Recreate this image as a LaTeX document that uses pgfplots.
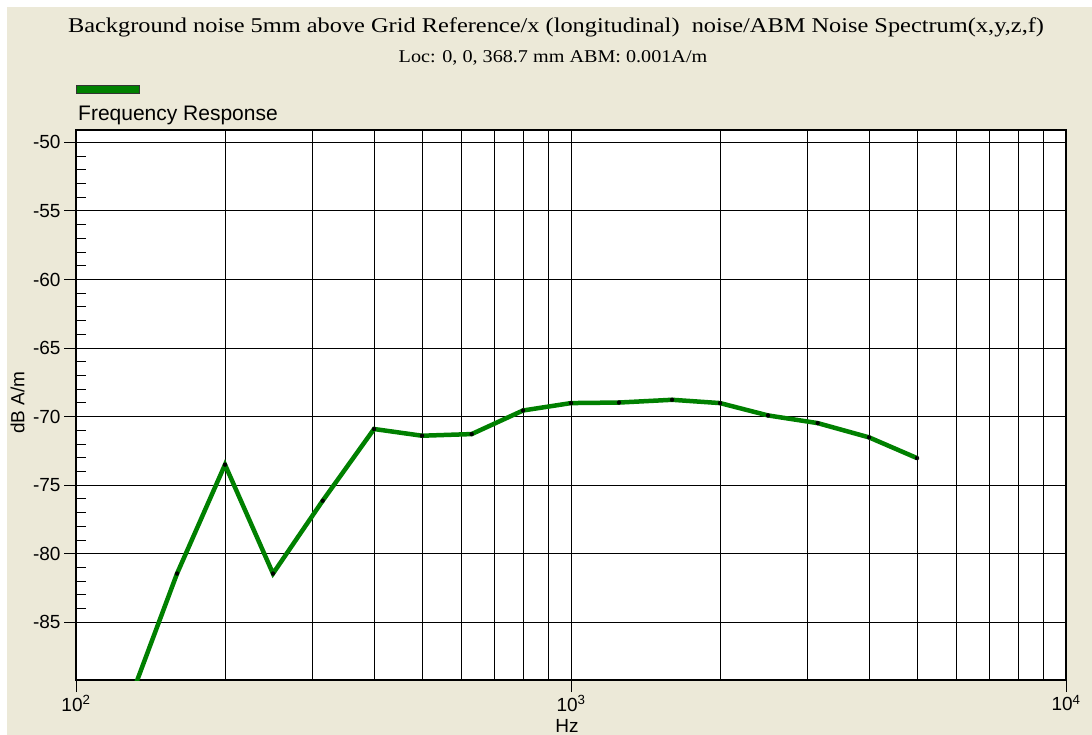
\documentclass[border=0pt]{standalone}
\usepackage{pgfplots}
\pgfplotsset{compat=1.18}
\usepackage{fontspec}
\setmainfont{Liberation Sans}
\newfontfamily\serifx{Liberation Serif}
\definecolor{bg}{RGB}{236,233,216}
\definecolor{lg}{RGB}{0,128,0}

\pgfplotstableread{
f y
125 -91.8
160 -81.44
200 -73.5
250 -81.44
315 -76.13
400 -70.9
500 -71.39
630 -71.27
800 -69.55
1000 -69.01
1250 -68.97
1600 -68.77
2000 -69.01
2500 -69.91
3150 -70.47
4000 -71.51
5000 -73.02
}\datatable

\begin{document}
\begin{tikzpicture}
\useasboundingbox (0pt,0pt) rectangle (1092pt,-735pt);
\fill[white] (0pt,0pt) rectangle (1092pt,-735pt);
\fill[bg] (7pt,-7pt) rectangle (1092pt,-735pt);
\node[font=\serifx\fontsize{21}{24}\selectfont, inner sep=0pt, xscale=1.16] at (556pt,-27pt) {Background noise 5mm above Grid Reference/x (longitudinal)\ \ noise/ABM Noise Spectrum(x,y,z,f)};
\node[font=\serifx\fontsize{18}{21}\selectfont, inner sep=0pt, xscale=1.12] at (553pt,-58pt) {Loc: 0, 0, 368.7 mm ABM: 0.001A/m};
\begin{axis}[
  at={(76pt,-680pt)}, anchor=south west,
  width=990pt, height=550pt, scale only axis,
  xmode=log, xmin=100, xmax=10000,
  ymin=-89.2, ymax=-49.1,
  axis background/.style={fill=white},
  xtick={100,1000,10000},
  xticklabels={10\textsuperscript{2},10\textsuperscript{3},10\textsuperscript{4}},
  ytick={-85,-80,-75,-70,-65,-60,-55,-50},
  yticklabels={-85,-80,-75,-70,-65,-60,-55,-50},
  minor y tick num=4,
  tick pos=left,
  tick align=outside,
  major tick length=12pt,
  minor tick length=10pt,
  minor y tick style={xshift=10pt},
  minor x tick style={draw=none},
  xmajorgrids=true, xminorgrids=true, ymajorgrids=true,
  major grid style={black, line width=1pt},
  minor grid style={black, line width=1pt},
  axis line style={black, line width=1.2pt},
  tick style={black, line width=1pt},
  ticklabel style={font=\fontsize{19}{22}\selectfont},
  xlabel={Hz},
  xlabel style={at={(axis description cs:0.5,0)}, anchor=center, yshift=-46pt, xshift=-4pt, font=\fontsize{19}{22}\selectfont},
  ylabel={dB A/m},
  ylabel style={at={(axis description cs:-0.0591,0.504)}, anchor=center, font=\fontsize{19}{22}\selectfont},
  legend style={at={(0,1)}, anchor=south west, yshift=6pt, draw=none, fill=none, inner sep=0pt, font=\fontsize{21}{24}\selectfont},
  legend image code/.code={\draw[overlay, fill=lg, draw=black!80, line width=1pt] (0pt,20pt) rectangle (63pt,28pt);},
  legend cell align=left,
]
\addplot[lg, line width=4.5pt, mark=*, mark size=2pt, mark options={draw=black, fill=black, line width=0.3pt}] table[x=f, y=y] {\datatable};
\addlegendentry{Frequency Response}
\end{axis}
\end{tikzpicture}
\end{document}
